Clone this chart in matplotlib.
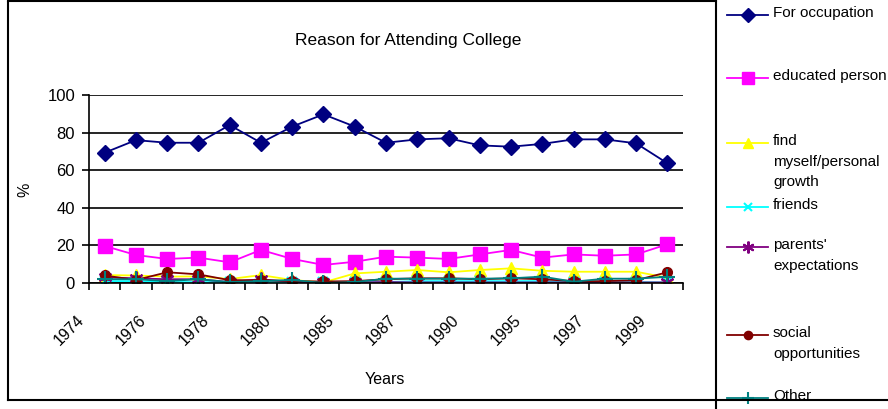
import matplotlib.pyplot as plt
from matplotlib.lines import Line2D
from matplotlib.transforms import ScaledTranslation

plt.rcParams['font.family'] = ['Liberation Sans', 'DejaVu Sans']

# survey years (every other one labelled on the axis)
years = ['1974', '1975', '1976', '1977', '1978', '1979', '1980', '1983', '1985', '1986',
         '1987', '1988', '1990', '1993', '1995', '1996', '1997', '1998', '1999']

occupation = [69.3, 76.0, 74.6, 74.6, 84.0, 74.6, 83.2, 89.7, 83.2, 74.6,
              76.4, 77.0, 73.2, 72.5, 74.0, 76.4, 76.4, 74.3, 63.7]
educated = [19.7, 14.9, 12.8, 13.5, 11.0, 17.6, 12.8, 9.6, 11.3, 14.0,
            13.5, 12.8, 15.2, 17.6, 13.5, 15.2, 14.5, 15.2, 20.6]
find_myself = [4.2, 4.0, 3.4, 3.5, 2.1, 4.2, 1.6, 0.3, 5.1, 6.0,
               6.9, 5.7, 6.9, 7.8, 6.5, 6.0, 6.0, 6.0, 2.8]
friends = [1.0, 1.0, 0.5, 0.5, 0.5, 0.5, 0.3, 0.3, 0.3, 0.5,
           1.0, 1.0, 1.0, 1.0, 1.0, 0.5, 0.5, 0.5, 0.3]
parents = [3.0, 2.5, 2.0, 2.0, 0.5, 2.0, 0.5, 0.3, 0.3, 0.5,
           0.3, 0.3, 0.3, 0.3, 0.3, 0.3, 0.3, 0.3, 0.3]
social = [4.0, 1.6, 5.7, 4.6, 1.5, 1.5, 1.0, 0.8, 1.0, 2.0,
          2.5, 2.5, 2.0, 2.5, 2.0, 1.0, 1.0, 1.5, 5.7]
other = [2.0, 2.0, 1.0, 2.0, 0.5, 1.0, 1.6, 0.0, 0.5, 2.3,
         2.3, 2.3, 2.3, 2.5, 3.4, 0.7, 2.3, 2.3, 3.3]

series = [
    ("For occupation", occupation, '#000080', 'D', 8.5),
    ("educated person", educated, '#FF00FF', 's', 10),
    ("find\nmyself/personal\ngrowth", find_myself, '#FFFF00', '^', 9),
    ("friends", friends, '#00FFFF', 'x', 6.5),
    ("parents'\nexpectations", parents, '#800080', (6, 2, 0), 10),
    ("social\nopportunities", social, '#800000', 'o', 7),
    ("Other", other, '#008080', '+', 11),
]
thin_markers = ('x', '+', (6, 2, 0))

W, H = 888, 409
fig = plt.figure(figsize=(W / 100, H / 100), dpi=100)


def fx(px):
    return px / W


def fy(py):
    return 1 - py / H


ax = fig.add_axes([fx(89), fy(283), fx(683) - fx(89), fy(95) - fy(283)])

x = list(range(len(years)))
for label, vals, color, marker, ms in series:
    ax.plot(x, vals, color=color, marker=marker, markersize=ms, linewidth=1.3,
            markeredgewidth=1.5 if marker in thin_markers else 1)

ax.set_xlim(-0.5, len(years) - 0.5)
ax.set_ylim(0, 100)
ax.set_yticks(range(0, 101, 20))
ax.yaxis.grid(True, color='black', linewidth=1.2)
ax.set_axisbelow(True)
for s in ('top', 'right'):
    ax.spines[s].set_visible(False)
ax.spines['left'].set_linewidth(1.2)
ax.spines['bottom'].set_linewidth(1.2)

# labels every other category, ticks on the category boundaries
ax.set_xticks(x[::2])
ax.set_xticklabels(years[::2], rotation=45, ha='right', va='top', fontsize=11.5)
ax.set_xticks([i - 0.5 for i in range(len(years) + 1)], minor=True)
ax.tick_params(axis='x', which='major', length=0, pad=21)
ax.tick_params(axis='x', which='minor', length=5, width=1.2, direction='out')
offset = ScaledTranslation(-0.18, 0, fig.dpi_scale_trans)
for lbl in ax.get_xticklabels():
    lbl.set_transform(lbl.get_transform() + offset)
ax.tick_params(axis='y', length=5, width=1.2, labelsize=12, pad=5)

fig.text(fx(408), fy(40), "Reason for Attending College", fontsize=12.5, ha='center', va='center')
fig.text(fx(385), fy(380), "Years", fontsize=11.5, ha='center', va='center')
fig.text(fx(25), fy(190), "%", fontsize=11.5, ha='center', va='center', rotation=90)

# legend drawn by hand on the right
legend_y = [15, 78, 143, 207, 247, 335, 398]
for (label, vals, color, marker, ms), ly in zip(series, legend_y):
    fig.add_artist(Line2D([fx(727), fx(768)], [fy(ly), fy(ly)], color=color, linewidth=1.3))
    fig.add_artist(Line2D([fx(748)], [fy(ly)], color=color, marker=marker, markersize=ms * 0.85,
                          markeredgewidth=1.5 if marker in thin_markers else 1))
    fig.text(fx(773), fy(ly - 9), label, fontsize=11, ha='left', va='top', linespacing=1.6)

# frame around the chart and the legend
border = dict(color='black', linewidth=1.5)
fig.add_artist(Line2D([fx(8), fx(8)], [fy(2), fy(400)], **border))
fig.add_artist(Line2D([fx(8), fx(888)], [fy(400), fy(400)], **border))
fig.add_artist(Line2D([fx(8), fx(716)], [fy(1), fy(1)], **border))
fig.add_artist(Line2D([fx(716), fx(716)], [fy(0), fy(409)], **border))

fig.savefig("out.png", dpi=100)
